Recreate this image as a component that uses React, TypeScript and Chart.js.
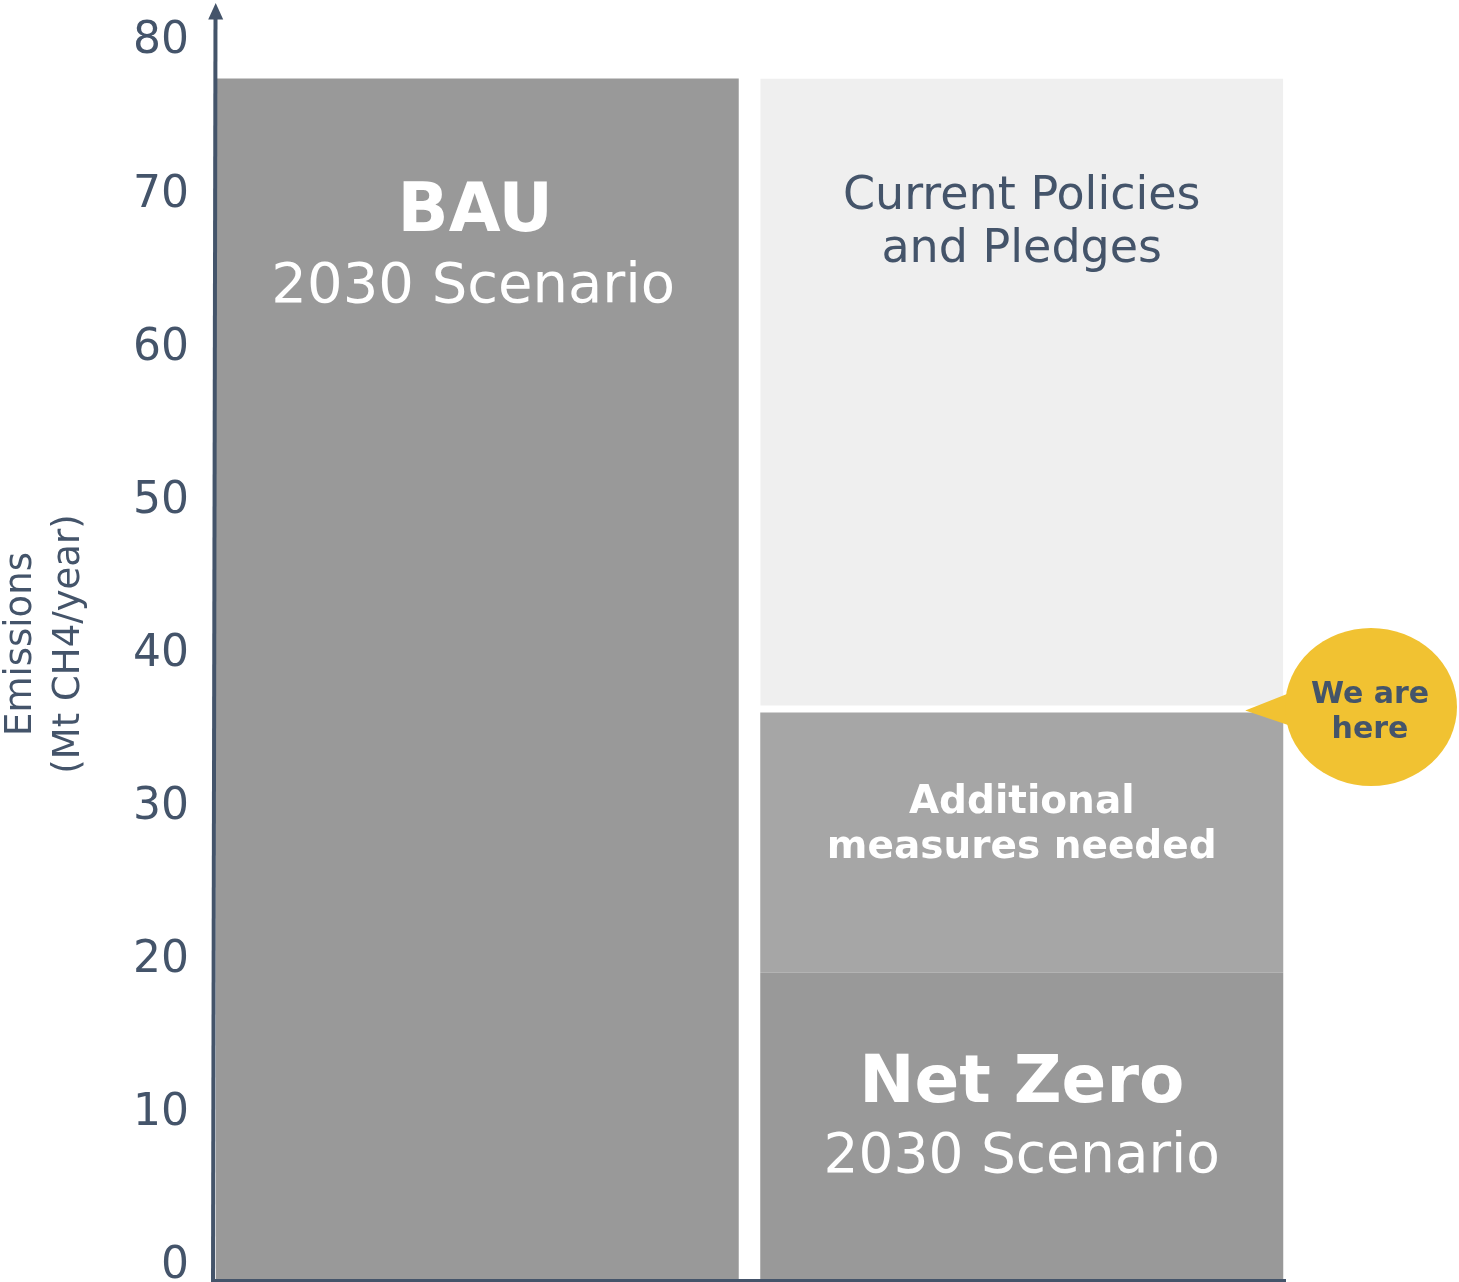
import { useEffect, useRef } from "react";
import { Chart, registerables } from "chart.js";

Chart.register(...registerables);

// ---- data ----
const categories = ["BAU", "Current Policies"];
const bauValues = [78.4, null];
const netZeroValues = [null, 20];
const additionalValues = [null, 17];
const currentPoliciesValues = [null, 41.4];
const yTickValues = [0, 10, 20, 30, 40, 50, 60, 70, 80];
const axisTitle = ["Emissions", "(Mt CH4/year)"];
const bauLabel = ["BAU", "2030 Scenario"];
const currentLabel = ["Current Policies", "and Pledges"];
const additionalLabel = ["Additional", "measures needed"];
const netZeroLabel = ["Net Zero", "2030 Scenario"];
const bubbleLabel = ["We are", "here"];

const DARK = "#44546A";
const FONT = '"DejaVu Sans", sans-serif';

const overlayPlugin = {
  id: "overlay",
  afterDatasetsDraw(chart: any) {
    const ctx = chart.ctx;
    const bau = chart.getDatasetMeta(0).data[0];
    const nz = chart.getDatasetMeta(1).data[1];
    const add = chart.getDatasetMeta(2).data[1];
    const cur = chart.getDatasetMeta(3).data[1];
    ctx.save();
    ctx.textAlign = "center";
    ctx.textBaseline = "alphabetic";

    // BAU
    ctx.fillStyle = "#ffffff";
    ctx.font = `bold 67px ${FONT}`;
    ctx.fillText(bauLabel[0], bau.x - 2, bau.y + 152);
    ctx.font = `56px ${FONT}`;
    ctx.fillText(bauLabel[1], bau.x - 4, bau.y + 223);

    // Current policies
    ctx.fillStyle = DARK;
    ctx.font = `46px ${FONT}`;
    ctx.fillText(currentLabel[0], cur.x, cur.y + 130);
    ctx.fillText(currentLabel[1], cur.x, cur.y + 183);

    // Additional
    ctx.fillStyle = "#ffffff";
    ctx.font = `bold 39px ${FONT}`;
    ctx.fillText(additionalLabel[0], add.x, add.y + 101);
    ctx.fillText(additionalLabel[1], add.x, add.y + 146);

    // Net zero
    ctx.font = `bold 66px ${FONT}`;
    ctx.fillText(netZeroLabel[0], nz.x, nz.y + 129);
    ctx.font = `55px ${FONT}`;
    ctx.fillText(netZeroLabel[1], nz.x, nz.y + 199);
    ctx.restore();
  },
  afterDraw(chart: any) {
    const ctx = chart.ctx;
    const area = chart.chartArea;
    const cur = chart.getDatasetMeta(3).data[1];
    ctx.save();

    // y axis line with arrow
    ctx.strokeStyle = DARK;
    ctx.fillStyle = DARK;
    ctx.lineWidth = 4;
    ctx.beginPath();
    ctx.moveTo(213, area.bottom + 3);
    ctx.lineTo(215.5, 14);
    ctx.stroke();
    ctx.beginPath();
    ctx.moveTo(215.7, 3);
    ctx.lineTo(208.2, 19.5);
    ctx.lineTo(223.2, 19.5);
    ctx.closePath();
    ctx.fill();

    // x axis line
    ctx.lineWidth = 3;
    ctx.beginPath();
    ctx.moveTo(211, area.bottom + 1.5);
    ctx.lineTo(1286, area.bottom + 1.5);
    ctx.stroke();

    // axis title (rotated)
    ctx.font = `37px ${FONT}`;
    ctx.textAlign = "center";
    ctx.textBaseline = "middle";
    const titleY = 644;
    [21, 69].forEach((x, i) => {
      ctx.save();
      ctx.translate(x, titleY);
      ctx.rotate(-Math.PI / 2);
      ctx.fillText(axisTitle[i], 0, 0);
      ctx.restore();
    });

    // bubble
    const cy = cur.base - 5.5;
    const cx = area.right + 77;
    ctx.fillStyle = "#F1C232";
    ctx.beginPath();
    ctx.moveTo(cur.x + cur.width / 2 - 38, cur.base - 2);
    ctx.lineTo(cx - 84, cy - 13);
    ctx.lineTo(cx - 80, cy + 19);
    ctx.closePath();
    ctx.fill();
    ctx.beginPath();
    ctx.ellipse(cx, cy, 86, 79, 0, 0, Math.PI * 2);
    ctx.fill();
    ctx.fillStyle = DARK;
    ctx.font = `bold 30px ${FONT}`;
    ctx.textBaseline = "alphabetic";
    ctx.fillText(bubbleLabel[0], cx - 1, cy - 4);
    ctx.fillText(bubbleLabel[1], cx - 1, cy + 31);
    ctx.restore();
  },
};

export default function App() {
  const ref = useRef<HTMLCanvasElement | null>(null);
  useEffect(() => {
    document.body.style.margin = "0";
    document.documentElement.style.overflow = "hidden";
    const canvas = ref.current!;
    const chart = new Chart(canvas, {
      type: "bar",
      data: {
        labels: categories,
        datasets: [
          { label: "BAU", data: bauValues as any, backgroundColor: "#999999", borderWidth: 0 },
          { label: "Net Zero", data: netZeroValues as any, backgroundColor: "#999999", borderWidth: 0 },
          { label: "Additional measures needed", data: additionalValues as any, backgroundColor: "#a6a6a6", borderWidth: 0 },
          {
            label: "Current Policies and Pledges",
            data: currentPoliciesValues as any,
            backgroundColor: "#efefef",
            borderColor: "#ffffff",
            borderWidth: { top: 0, left: 0, right: 0, bottom: 7 } as any,
            borderSkipped: false as any,
          },
        ],
      },
      options: {
        responsive: false,
        animation: false,
        devicePixelRatio: 1,
        layout: { padding: { top: 54, bottom: 3, left: 0, right: 165 } },
        datasets: { bar: { barPercentage: 0.9605, categoryPercentage: 1 } },
        plugins: { legend: { display: false }, tooltip: { enabled: false }, title: { display: false } },
        scales: {
          x: { stacked: true, display: false },
          y: {
            stacked: true,
            min: 0,
            max: 80,
            position: "left",
            grid: { display: false, drawTicks: false },
            border: { display: false },
            afterBuildTicks: (scale: any) => {
              scale.ticks = yTickValues.map((v) => ({ value: v }));
            },
            afterFit: (scale: any) => {
              scale.width = 205;
              scale.paddingTop = 0;
              scale.paddingBottom = 0;
            },
            ticks: {
              padding: 16,
              labelOffset: -12,
              color: DARK,
              font: { family: FONT, size: 44 },
            },
          },
        },
      },
      plugins: [overlayPlugin],
    });
    return () => chart.destroy();
  }, []);
  return (
    <canvas ref={ref} width={1459} height={1282} style={{ display: "block", width: 1459, height: 1282 }} />
  );
}
